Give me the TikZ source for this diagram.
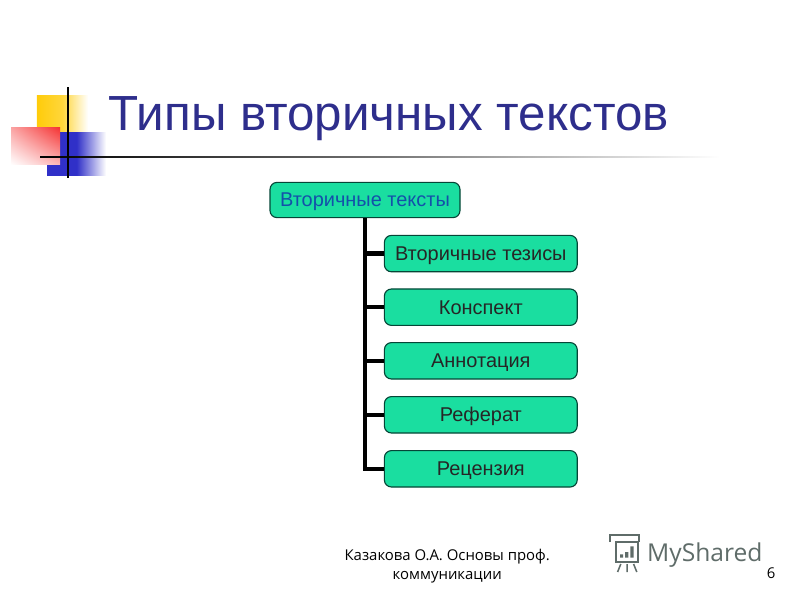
\documentclass[tikz,border=0pt]{standalone}
\usepackage{fontspec}
\setmainfont{Liberation Sans}
\newfontfamily\footfont{Open Sans}
\usetikzlibrary{shadings}
\definecolor{titleblue}{RGB}{46,46,140}
\definecolor{boxgreen}{RGB}{26,222,160}
\definecolor{boxedge}{RGB}{5,70,55}
\definecolor{rootblue}{RGB}{20,80,170}
\definecolor{logogrey}{RGB}{95,108,105}
\definecolor{squareyellow}{RGB}{255,204,10}
\definecolor{squareblue}{RGB}{48,48,200}
\definecolor{squarered}{RGB}{245,50,50}
\tikzset{
    leaf/.style={draw=boxedge, fill=boxgreen, rounded corners=5, line width=.8pt, minimum width=4.82cm, minimum height=.91cm, inner sep=0, text height=.35cm, text depth=0, font=\fontsize{14.2}{16}\selectfont, text=black!85},
    root/.style={leaf, minimum width=4.75cm, minimum height=.88cm, text=rootblue},
    link/.style={line width=3pt, black}
}
\begin{document}
\begin{tikzpicture}
    \useasboundingbox (0, 0) rectangle (20, 15);
    % corner squares
    \shade[left color=squareyellow, right color=white, middle color=squareyellow!80](.92, 11.68) rectangle (2.2, 12.6);
    \shade[left color=squareblue, right color=white, middle color=squareblue](1.18, 10.62) rectangle (2.65, 11.68);
    \shade[shading=bilinear interpolation, lower left=white, upper right=squarered, lower right=squarered!35, upper left=squarered!45](.28, 10.88) rectangle (1.5, 11.82);
    % rules
    \shade[left color=black, right color=white, middle color=black!55](1, 11.05) rectangle (18, 11.09);
    \draw[line width=1.2pt](1.7, 10.55)--(1.7, 12.83);
    \node[inner sep=0, text=titleblue, font=\fontsize{35.1}{40}\selectfont] (title) at (9.72, 12.03) {Типы вторичных текстов};
    % the tree
    \node[root] (sec) at (9.125, 10) {Вторичные тексты};
    \node[leaf] (thes) at (12.02, 8.66) {Вторичные тезисы};
    \node[leaf] (cons) at (12.02, 7.32) {Конспект};
    \node[leaf] (anno) at (12.02, 5.98) {Аннотация};
    \node[leaf] (refr) at (12.02, 4.63) {Реферат};
    \node[leaf] (revw) at (12.02, 3.28) {Рецензия};
    \foreach \n in {thes, cons, anno, refr, revw}
        \draw[link](sec.south)|-(\n.west);
    % footer
    \node[align=center, inner sep=0, font=\footfont\fontsize{10.6}{13}\selectfont] (foot) at (11.18, .85) {Казакова О.А. Основы проф.\\коммуникации};
    \node[inner sep=0, font=\footfont\fontsize{10.6}{13}\selectfont] (page) at (19.28, .67) {6};
    \node[inner sep=0, text=logogrey, font=\footfont\fontsize{17.5}{20}\selectfont] (logo) at (17.62, 1.13) {MyShared};
    \draw[logogrey, line width=1.5pt](15.4, 1.45)--(15.4, .95)--(15.95, .95)--(15.95, 1.45)--cycle;
    \draw[logogrey, line width=1.1pt](15.25, 1.45)--(15.25, 1.62)--(15.98, 1.62)--(15.98, 1.45);
    \draw[logogrey, line width=1.1pt](15.52, .9)--(15.44, .7)(15.68, .9)--(15.68, .7)(15.84, .9)--(15.92, .7);
    \fill[logogrey](15.5, 1.06)rectangle(15.58, 1.14)(15.63, 1.06)rectangle(15.71, 1.2)(15.76, 1.06)rectangle(15.84, 1.34);
\end{tikzpicture}
\end{document}
